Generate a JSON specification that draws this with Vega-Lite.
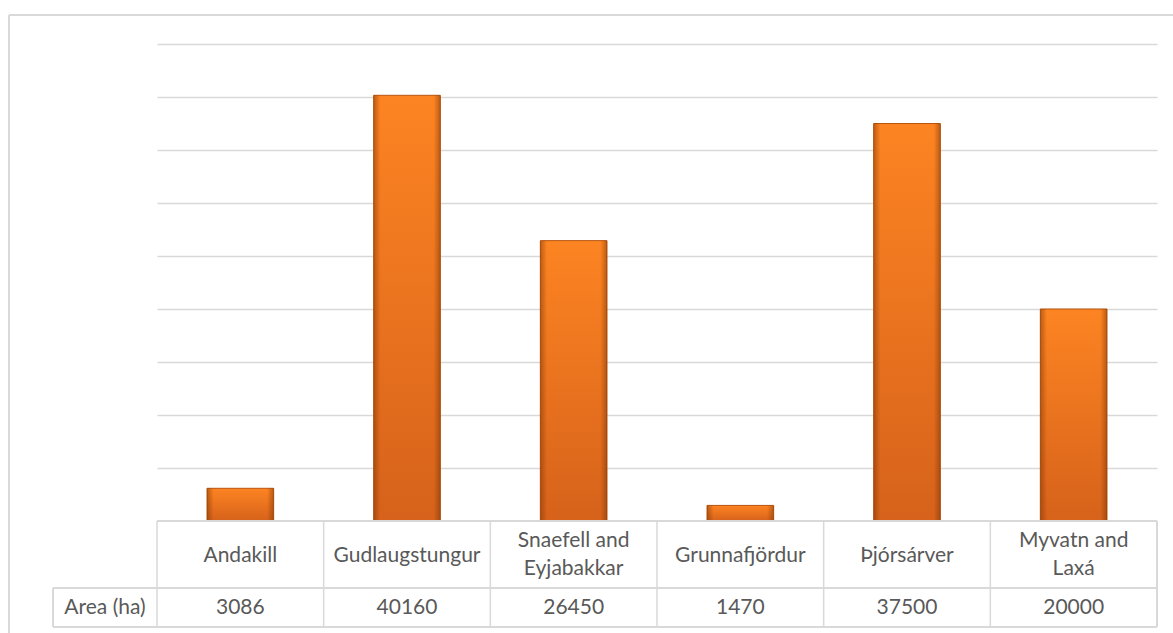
{
  "$schema": "https://vega.github.io/schema/vega-lite/v6.json",
  "width": 1000,
  "height": 583,
  "autosize": {"type": "none"},
  "padding": {"left": 157, "top": 44, "right": 16, "bottom": 6},
  "background": "white",
  "config": {"view": {"stroke": null}, "font": "Lato"},
  "data": {"values": [
    {"site": "Andakill", "label": "Andakill", "area": 3086},
    {"site": "Gudlaugstungur", "label": "Gudlaugstungur", "area": 40160},
    {"site": "Snaefell and Eyjabakkar", "label": "Snaefell and\nEyjabakkar", "area": 26450},
    {"site": "Grunnafjördur", "label": "Grunnafjördur", "area": 1470},
    {"site": "Þjórsárver", "label": "Þjórsárver", "area": 37500},
    {"site": "Myvatn and Laxá", "label": "Myvatn and\nLaxá", "area": 20000}
  ]},
  "encoding": {
    "x": {"field": "site", "type": "nominal", "sort": null,
          "scale": {"paddingInner": 0, "paddingOuter": 0}, "axis": null}
  },
  "layer": [
    {
      "mark": {"type": "bar", "width": {"band": 0.4},
        "fill": {"gradient": "linear", "x1": 0, "y1": 0, "x2": 0, "y2": 1,
          "stops": [{"offset": 0, "color": "#fd8422"}, {"offset": 1, "color": "#d6621b"}]},
        "stroke": "#b9540f", "strokeWidth": 1},
      "encoding": {
        "y": {"field": "area", "type": "quantitative",
              "scale": {"domain": [-10000, 45000], "nice": false, "zero": false},
              "axis": {"values": [5000, 10000, 15000, 20000, 25000, 30000, 35000, 40000, 45000],
                       "grid": true, "gridColor": "#d9d9d9", "gridWidth": 1.5,
                       "labels": false, "ticks": false, "domain": false, "title": null}}
      }
    },
    {
      "mark": {"type": "bar", "width": {"band": 0.4},
        "fill": {"gradient": "linear", "x1": 0, "y1": 0, "x2": 1, "y2": 0,
          "stops": [{"offset": 0, "color": "rgba(110,45,0,0.45)"}, {"offset": 0.1, "color": "rgba(110,45,0,0)"},
                    {"offset": 0.9, "color": "rgba(110,45,0,0)"}, {"offset": 1, "color": "rgba(110,45,0,0.45)"}]}},
      "encoding": {"y": {"field": "area", "type": "quantitative"}}
    },
    {
      "transform": [{"filter": "indexof(datum.label, '\\n') < 0"}],
      "mark": {"type": "text", "fontSize": 21, "color": "#595959", "baseline": "middle"},
      "encoding": {"y": {"datum": -3300}, "text": {"field": "label"}}
    },
    {
      "transform": [{"filter": "indexof(datum.label, '\\n') >= 0"}],
      "mark": {"type": "text", "fontSize": 21, "color": "#595959", "lineBreak": "\n", "lineHeight": 28, "baseline": "middle"},
      "encoding": {"y": {"datum": -1900}, "text": {"field": "label"}}
    },
    {
      "mark": {"type": "text", "fontSize": 21, "color": "#595959", "baseline": "middle"},
      "encoding": {"y": {"datum": -8250}, "text": {"field": "area", "type": "quantitative", "format": "d"}}
    },
    {
      "transform": [{"filter": "datum.site == 'Andakill'"}],
      "mark": {"type": "text", "fontSize": 21, "color": "#595959", "baseline": "middle"},
      "encoding": {"x": {"datum": "Andakill", "bandPosition": -0.312}, "y": {"datum": -8250}, "text": {"value": "Area (ha)"}}
    },
    {
      "mark": {"type": "rule", "color": "#d9d9d9", "strokeWidth": 1.5},
      "encoding": {"x": {"field": "site", "type": "nominal", "bandPosition": 0}, "y": {"datum": 0}, "y2": {"datum": -10000}}
    },
    {
      "mark": {"type": "rule", "color": "#d9d9d9", "strokeWidth": 1.5},
      "encoding": {"x": {"datum": "Myvatn and Laxá", "bandPosition": 1}, "y": {"datum": 0}, "y2": {"datum": -10000}}
    },
    {
      "mark": {"type": "rule", "color": "#d9d9d9", "strokeWidth": 1.5},
      "encoding": {"x": {"datum": "Andakill", "bandPosition": -0.624}, "y": {"datum": -6321}, "y2": {"datum": -10000}}
    },
    {
      "mark": {"type": "rule", "color": "#d9d9d9", "strokeWidth": 1.5},
      "encoding": {"x": {"datum": "Andakill", "bandPosition": 0}, "x2": {"datum": "Myvatn and Laxá", "bandPosition": 1}, "y": {"datum": 0}}
    },
    {
      "mark": {"type": "rule", "color": "#d9d9d9", "strokeWidth": 1.5},
      "encoding": {"x": {"datum": "Andakill", "bandPosition": -0.624}, "x2": {"datum": "Myvatn and Laxá", "bandPosition": 1}, "y": {"datum": -6321}}
    },
    {
      "mark": {"type": "rule", "color": "#d9d9d9", "strokeWidth": 1.5},
      "encoding": {"x": {"datum": "Andakill", "bandPosition": -0.624}, "x2": {"datum": "Myvatn and Laxá", "bandPosition": 1}, "y": {"datum": -10000}}
    },
    {
      "mark": {"type": "rule", "color": "#d9d9d9", "strokeWidth": 2},
      "encoding": {"x": {"datum": "Andakill", "bandPosition": -0.888}, "y": {"datum": 47736}, "y2": {"datum": -13000}}
    },
    {
      "mark": {"type": "rule", "color": "#d9d9d9", "strokeWidth": 2},
      "encoding": {"x": {"datum": "Andakill", "bandPosition": -0.888}, "x2": {"datum": "Myvatn and Laxá", "bandPosition": 2}, "y": {"datum": 47736}}
    }
  ]
}
